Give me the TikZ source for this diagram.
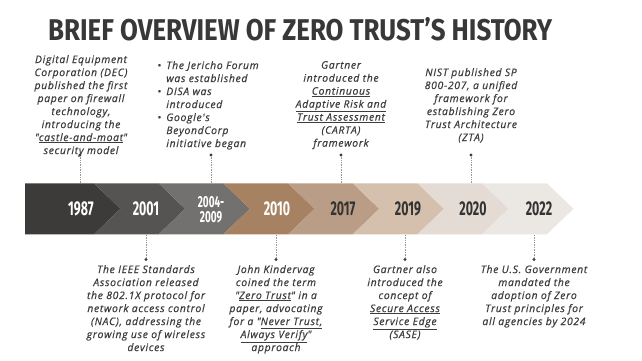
\documentclass[tikz,border=0pt]{standalone}
\usepackage{fontspec}
\newfontfamily\bodyfont{Open Sans}[LetterSpace=7,FakeBold=0.6]
\newfontfamily\yearfont{Fira Sans}[FakeStretch=0.62]
\newfontfamily\titlefont{Fira Sans}
\definecolor{txt}{HTML}{3D3D3D}
\definecolor{ttl}{HTML}{383838}
\definecolor{cA}{HTML}{3C3B39}
\definecolor{cB}{HTML}{555453}
\definecolor{cC}{HTML}{727170}
\definecolor{cD}{HTML}{A68262}
\definecolor{cE}{HTML}{B99D86}
\definecolor{cF}{HTML}{D5C0AE}
\definecolor{cG}{HTML}{E4DCD4}
\definecolor{cH}{HTML}{EBE8E3}
\definecolor{yd}{HTML}{333333}
\newcommand{\chevseg}[3]{%
  \fill[#3] (#1,183.3) -- (#2,183.3) -- (#2+26.5,208.8) -- (#2,234.3) -- (#1,234.3) -- (#1+26.5,208.8) -- cycle;}
\tikzset{
  body/.style={font={\bodyfont\itshape\fontsize{10.3}{13}\selectfont}, text=txt, align=center, inner sep=0pt, anchor=north},
  bodyl/.style={body, align=left},
  yearw/.style={font={\yearfont\bfseries\fontsize{20}{20}\selectfont}, text=white, inner sep=0pt},
  yeard/.style={yearw, text=yd},
  conn/.style={densely dotted, line width=0.7pt, gray!80},
  dotc/.style={fill=txt},
}
\begin{document}
\begin{tikzpicture}[x=1pt,y=-1pt]
\useasboundingbox[fill=white] (0,0) rectangle (642,361);
% title
\node[anchor=base west, inner sep=0pt, text=ttl] (title) at (48,41)
  {\resizebox{504pt}{23pt}{\titlefont\bfseries BRIEF OVERVIEW OF ZERO TRUST’S HISTORY}};
% chevrons
\fill[cA] (25,183.3) -- (94,183.3) -- (120.5,208.8) -- (94,234.3) -- (25,234.3) -- cycle;
\chevseg{94}{158.7}{cB}
\chevseg{158.7}{223.4}{cC}
\chevseg{223.4}{288.1}{cD}
\chevseg{288.1}{352.8}{cE}
\chevseg{352.8}{417.5}{cF}
\chevseg{417.5}{482.2}{cG}
\chevseg{482.2}{546.9}{cH}
% years
\node[yearw] (y1987) at (81,209) {1987};
\node[yearw] (y2001) at (146,209) {2001};
\node[yearw, align=center, font={\yearfont\bfseries\fontsize{16}{15.5}\selectfont}] (y2004) at (211,209.5) {2004-\\2009};
\node[yearw] (y2010) at (277,209) {2010};
\node[yeard] (y2017) at (343,209) {2017};
\node[yeard] (y2019) at (408,209) {2019};
\node[yeard] (y2020) at (473,209) {2020};
\node[yeard] (y2022) at (539,209) {2022};
% connector coordinates
\coordinate (d1987) at (80,155);   \coordinate (e1987) at (80,183.3);
\coordinate (d2004) at (211,155);  \coordinate (e2004) at (211,183.3);
\coordinate (d2017) at (341,155);  \coordinate (e2017) at (341,183.3);
\coordinate (d2020) at (471,155);  \coordinate (e2020) at (471,183.3);
\coordinate (d2001) at (146,259.5); \coordinate (e2001) at (146,234.3);
\coordinate (d2010) at (276,259.5); \coordinate (e2010) at (276,234.3);
\coordinate (d2019) at (405,259.5); \coordinate (e2019) at (405,234.3);
\coordinate (d2022) at (534,259.5); \coordinate (e2022) at (534,234.3);
\foreach \n in {1987,2004,2017,2020,2001,2010,2019,2022}{
  \draw[conn] (d\n) -- (e\n);
  \fill[dotc] (d\n) circle (1.6pt);
}
% top texts
\node[body] (t1987) at (81,55) {Digital Equipment\\Corporation (DEC)\\published the first\\paper on firewall\\technology,\\introducing the\\"\underline{castle-and-moat}"\\security model};
\node[bodyl] (t2004) at (208,61) {\makebox[9pt][l]{•}The Jericho Forum\\\hspace*{9pt}was established\\\makebox[9pt][l]{•}DISA was\\\hspace*{9pt}introduced\\\makebox[9pt][l]{•}Google's\\\hspace*{9pt}BeyondCorp\\\hspace*{9pt}initiative began};
\node[body] (t2017) at (341,61) {Gartner\\introduced the\\\underline{Continuous}\\\underline{Adaptive Risk and}\\\underline{Trust Assessment}\\(CARTA)\\framework};
\node[body] (t2020) at (471,68) {NIST published SP\\800-207, a unified\\framework for\\establishing Zero\\Trust Architecture\\(ZTA)};
% bottom texts
\node[body] (t2001) at (146,265) {The IEEE Standards\\Association released\\the 802.1X protocol for\\network access control\\(NAC), addressing the\\growing use of wireless\\devices};
\node[body] (t2010) at (276,265) {John Kindervag\\coined the term\\"\underline{Zero Trust}" in a\\paper, advocating\\for a "\underline{Never Trust,}\\\underline{Always Verify}"\\approach};
\node[body] (t2019) at (405,265) {Gartner also\\introduced the\\concept of\\\underline{Secure Access}\\\underline{Service Edge}\\(SASE)};
\node[body] (t2022) at (534,265) {The U.S. Government\\mandated the\\adoption of Zero\\Trust principles for\\all agencies by 2024};
\end{tikzpicture}
\end{document}
